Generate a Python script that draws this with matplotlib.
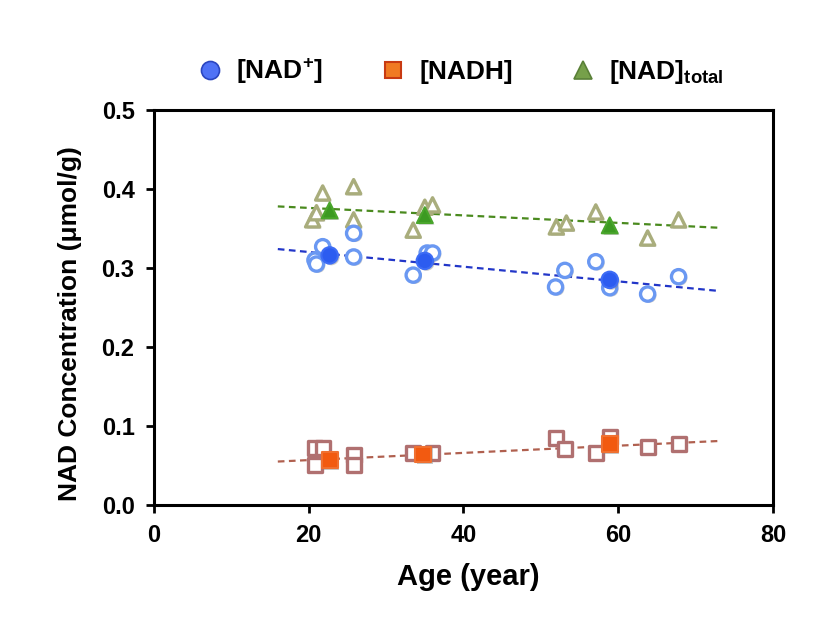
import matplotlib
matplotlib.use("Agg")
import matplotlib.pyplot as plt
import matplotlib.patheffects as pe
from matplotlib.lines import Line2D

plt.rcParams['font.family'] = ['Liberation Sans', 'DejaVu Sans']
plt.rcParams['font.weight'] = 'bold'
plt.rcParams['mathtext.fontset'] = 'custom'
plt.rcParams['mathtext.rm'] = 'Liberation Sans:bold'
plt.rcParams['mathtext.bf'] = 'Liberation Sans:bold'
plt.rcParams['mathtext.it'] = 'Liberation Sans:bold:italic'

# ---- data ----
nad_plus_age = [20.8, 21.0, 21.8, 25.8, 25.8, 33.5, 35.3, 36.0, 51.9, 53.1, 57.1, 58.9, 63.8, 67.8]
nad_plus_val = [0.310, 0.305, 0.327, 0.344, 0.314, 0.291, 0.319, 0.319, 0.276, 0.297, 0.308, 0.275, 0.267, 0.289]
nad_plus_mean_age = [22.7, 35.0, 58.9]
nad_plus_mean_val = [0.316, 0.309, 0.285]

nadh_age = [20.8, 21.8, 20.8, 25.8, 25.8, 33.5, 36.0, 51.9, 53.1, 57.1, 58.9, 63.8, 67.8]
nadh_val = [0.072, 0.072, 0.051, 0.063, 0.051, 0.066, 0.066, 0.085, 0.071, 0.066, 0.086, 0.073, 0.077]
nadh_mean_age = [22.7, 34.8, 58.9]
nadh_mean_val = [0.057, 0.064, 0.077]

total_age = [20.5, 21.0, 21.8, 25.8, 25.8, 33.5, 35.0, 36.0, 52.0, 53.3, 57.1, 63.8, 67.8]
total_val = [0.361, 0.370, 0.395, 0.403, 0.361, 0.348, 0.377, 0.380, 0.352, 0.357, 0.371, 0.338, 0.361]
total_mean_age = [22.7, 35.0, 58.9]
total_mean_val = [0.373, 0.367, 0.354]

trend_age = [16, 73]
nad_plus_trend = [0.324, 0.271]
nadh_trend = [0.055, 0.081]
total_trend = [0.378, 0.351]

x_ticks = [0, 20, 40, 60, 80]
y_ticks = [0.0, 0.1, 0.2, 0.3, 0.4, 0.5]

# ---- figure ----
fig = plt.figure(figsize=(8.38, 6.38), dpi=100)
ax = fig.add_axes([0.1838, 0.2085, 0.7386, 0.619])

shadow = [pe.SimplePatchShadow(offset=(1.2, -1.2), shadow_rgbFace='#888888', alpha=0.45), pe.Normal()]

# trend lines
ax.plot(trend_age, total_trend, ls=(0, (3, 2)), color='#4a8a1e', lw=1.6, zorder=2)
ax.plot(trend_age, nad_plus_trend, ls=(0, (3, 2)), color='#2236c8', lw=1.6, zorder=2)
ax.plot(trend_age, nadh_trend, ls=(0, (3, 2)), color='#b0604f', lw=1.6, zorder=2)

# individual (open) points
ax.scatter(total_age, total_val, marker='^', s=105, facecolor='white', edgecolor='#a9ad7c',
           linewidths=2.4, zorder=3, path_effects=shadow)
ax.scatter(nad_plus_age, nad_plus_val, marker='o', s=105, facecolor='white', edgecolor='#6a98f2',
           linewidths=2.4, zorder=3, path_effects=shadow)
ax.scatter(nadh_age, nadh_val, marker='s', s=100, facecolor='white', edgecolor='#b07070',
           linewidths=2.4, zorder=3, path_effects=shadow)

# means (filled)
ax.scatter(total_mean_age, total_mean_val, marker='^', s=130, facecolor='#3c9a22', edgecolor='#4aa62c',
           linewidths=1.5, zorder=4, path_effects=shadow)
ax.scatter(nad_plus_mean_age, nad_plus_mean_val, marker='o', s=140, facecolor='#2c5cf0', edgecolor='#3d6cf5',
           linewidths=1.5, zorder=4, path_effects=shadow)
ax.scatter(nadh_mean_age, nadh_mean_val, marker='s', s=130, facecolor='#f25a10', edgecolor='#f07030',
           linewidths=1.5, zorder=4, path_effects=shadow)

ax.set_xlim(0, 80)
ax.set_ylim(0, 0.5)
ax.set_xticks(x_ticks)
ax.set_xticklabels([str(t) for t in x_ticks])
ax.set_yticks(y_ticks)
ax.set_yticklabels([f"{t:.1f}" for t in y_ticks])
ax.tick_params(axis='both', direction='out', length=6, width=2, labelsize=17, pad=8)
for lab in ax.get_xticklabels() + ax.get_yticklabels():
    lab.set_fontweight('bold')
for sp in ax.spines.values():
    sp.set_linewidth(2.2)

ax.set_xlabel('Age (year)', fontsize=21, fontweight='bold')
ax.xaxis.set_label_coords(0.508, -0.148)
ax.set_ylabel('NAD Concentration (\u03bcmol/g)', fontsize=19, fontweight='bold')
ax.yaxis.set_label_coords(-0.117, 0.46)

handles = [
    Line2D([], [], ls='none', marker='o', markersize=13, markerfacecolor='#4f72f6', markeredgecolor='#2a45c0', markeredgewidth=1.2),
    Line2D([], [], ls='none', marker='s', markersize=12, markerfacecolor='#f07a22', markeredgecolor='#c83a12', markeredgewidth=1.5),
    Line2D([], [], ls='none', marker='^', markersize=13, markerfacecolor='#76a04a', markeredgecolor='#5a8038', markeredgewidth=1.2),
]
labels = ['[NAD$^{+}$]', '[NADH]', '[NAD]$_{\\mathrm{total}}$']
fig.legend(handles, labels, loc='center', bbox_to_anchor=(0.549, 0.888), ncol=3, frameon=False,
           prop={'size': 19, 'weight': 'bold'}, columnspacing=2.15, handletextpad=0.5, handlelength=1.0)

fig.savefig('out.png', dpi=100)
